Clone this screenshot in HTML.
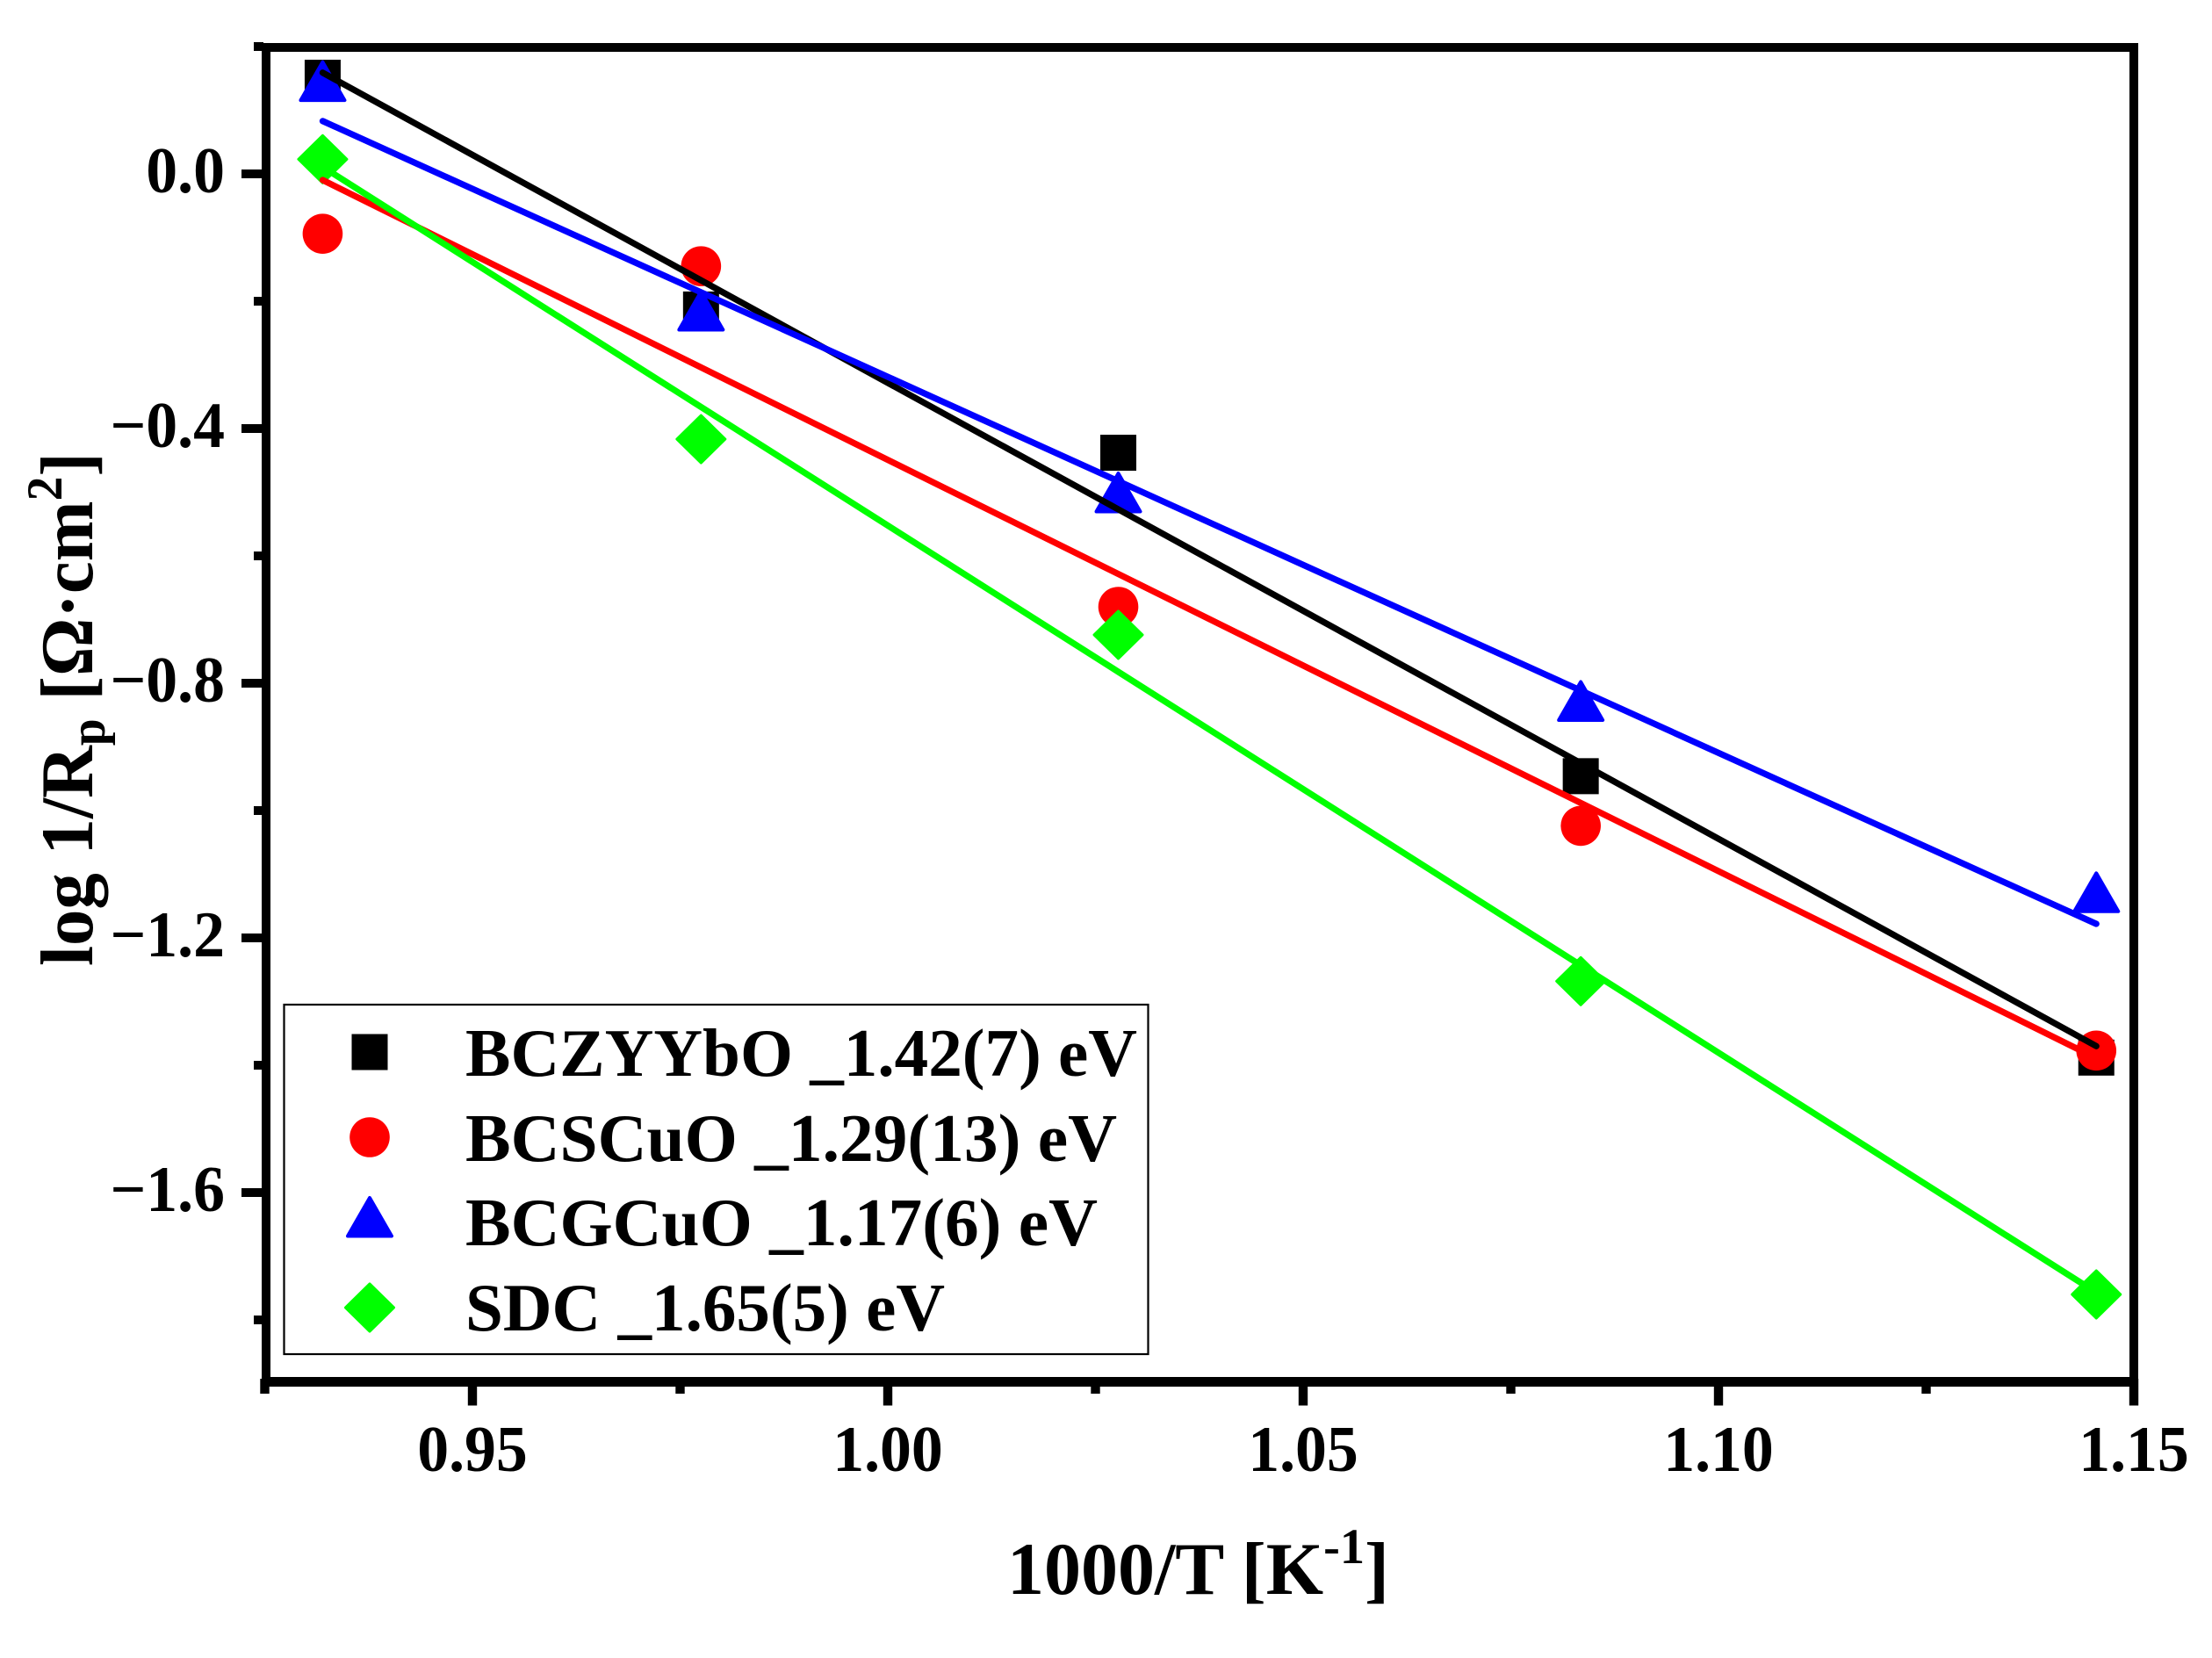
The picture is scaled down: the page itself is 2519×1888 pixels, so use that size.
<!DOCTYPE html>
<html lang="en">
<head>
<meta charset="utf-8">
<title>log 1/Rp vs 1000/T</title>
<style>
html,body{margin:0;padding:0;background:#fff;}
svg{display:block;}
text{font-family:"Liberation Serif",serif;font-weight:bold;fill:#000;}
</style>
</head>
<body>
<svg id="chart" xmlns="http://www.w3.org/2000/svg" width="2519" height="1888" viewBox="0 0 2519 1888">
  <rect width="2519" height="1888" fill="#fff"/>
  <g id="markers"></g>
  <g id="fits"></g>
  <g id="axes"></g>
  <g id="ticklabels"></g>

  <text x="1147" y="1815" font-size="85" textLength="435" lengthAdjust="spacingAndGlyphs">1000/T [K<tspan font-size="57" dy="-35">-1</tspan><tspan dy="35">]</tspan></text>
  <text transform="translate(105,1100) rotate(-90)" font-size="85" textLength="585" lengthAdjust="spacingAndGlyphs">log 1/R<tspan font-size="57" dy="14">p</tspan><tspan dy="-14"> [Ω·cm</tspan><tspan font-size="57" dy="-35">2</tspan><tspan dy="35">]</tspan></text>

  <g id="legend">
    <rect x="323.5" y="1144" width="984" height="398" fill="#fff" stroke="#000" stroke-width="2.2"/>
    <text x="530" y="1225" font-size="77" textLength="765" lengthAdjust="spacingAndGlyphs">BCZYYbO _1.42(7) eV</text>
    <text x="530" y="1322" font-size="77" textLength="742" lengthAdjust="spacingAndGlyphs">BCSCuO _1.29(13) eV</text>
    <text x="530" y="1418" font-size="77" textLength="720" lengthAdjust="spacingAndGlyphs">BCGCuO _1.17(6) eV</text>
    <text x="530" y="1515" font-size="77" textLength="546" lengthAdjust="spacingAndGlyphs">SDC _1.65(5) eV</text>
  </g>
</svg>
<script>
// ---- data ----
const temperatureX = [0.93197, 0.97752, 1.02775, 1.08342, 1.14548];
const bczyyboValues = [0.151, -0.213, -0.438, -0.946, -1.388];
const bcscuoValues = [-0.094, -0.145, -0.680, -1.024, -1.377];
const bcgcuoValues = [0.146, -0.2145, -0.500, -0.8276, -1.128];
const sdcValues = [0.023, -0.4166, -0.724, -1.268, -1.760];
const fitX = [0.93197, 1.14548];
const bczyyboFit = [0.159, -1.370];
const bcscuoFit = [-0.0097, -1.389];
const bcgcuoFit = [0.083, -1.178];
const sdcFit = [0.011, -1.757];
const xMajorTicks = [0.95, 1.00, 1.05, 1.10, 1.15];
const xMinorTicks = [0.925, 0.975, 1.025, 1.075, 1.125];
const yMajorTicks = [0.0, -0.4, -0.8, -1.2, -1.6];
const yMinorTicks = [0.2, -0.2, -0.6, -1.0, -1.4, -1.8];

// ---- axis functions ----
function xPos(v) { return 1011 + (v - 1) * 9460; }
function yPos(v) { return 198 - 725 * v; }

const NS = 'http://www.w3.org/2000/svg';
function mk(tag, attrs, parent) {
  const el = document.createElementNS(NS, tag);
  for (const k in attrs) el.setAttribute(k, attrs[k]);
  parent.appendChild(el);
  return el;
}
const markersG = document.getElementById('markers');
const fitsG = document.getElementById('fits');
const axesG = document.getElementById('axes');
const labelsG = document.getElementById('ticklabels');
const legendG = document.getElementById('legend');

function square(cx, cy, parent) {
  const el = mk('rect', {x: cx - 20.5, y: cy - 20.5, width: 41, height: 41, fill: '#000'}, parent);
  
  
}
function circle(cx, cy, parent) {
  const el = mk('circle', {cx: cx, cy: cy, r: 22.8, fill: '#f00'}, parent);
  
  
}
function triangle(cx, cy, parent) {
  const pts = [[cx, cy - 21.5], [cx + 25, cy + 22], [cx - 25, cy + 22]].map(p => p.join(',')).join(' ');
  const el = mk('polygon', {points: pts, fill: '#00f', stroke: '#00f', 'stroke-width': 4, 'stroke-linejoin': 'round'}, parent);
  
  
}
function diamond(cx, cy, parent) {
  const pts = [[cx, cy - 27], [cx + 27.5, cy], [cx, cy + 27], [cx - 27.5, cy]].map(p => p.join(',')).join(' ');
  const el = mk('polygon', {points: pts, fill: '#0f0', stroke: '#0f0', 'stroke-width': 3, 'stroke-linejoin': 'round'}, parent);
  
  
}

// data markers
temperatureX.forEach((x, i) => square(xPos(x), yPos(bczyyboValues[i]), markersG));
temperatureX.forEach((x, i) => circle(xPos(x), yPos(bcscuoValues[i]), markersG));
temperatureX.forEach((x, i) => triangle(xPos(x), yPos(bcgcuoValues[i]), markersG));
temperatureX.forEach((x, i) => diamond(xPos(x), yPos(sdcValues[i]), markersG));

// fit lines
function fitLine(vals, color, name) {
  const el = mk('line', {
    x1: xPos(fitX[0]), y1: yPos(vals[0]), x2: xPos(fitX[1]), y2: yPos(vals[1]),
    stroke: color, 'stroke-width': 7.2, 'stroke-linecap': 'round'
  }, fitsG);
  
  
}
fitLine(bczyyboFit, '#000', 'fit-line-bczyybo');
fitLine(bcscuoFit, '#f00', 'fit-line-bcscuo');
fitLine(bcgcuoFit, '#00f', 'fit-line-bcgcuo');
fitLine(sdcFit, '#0f0', 'fit-line-sdc');

// frame
function spine(x, y, w, h, name) {
  const el = mk('rect', {x: x, y: y, width: w, height: h, fill: '#000'}, axesG);
  
  
}
spine(298, 49, 2137, 10, 'top-spine');
spine(298, 49, 10, 1530, 'left-spine');
spine(298, 1568, 2137, 11, 'bottom-spine');
spine(2425, 49, 10, 1530, 'right-spine');

// ticks
function xTick(v, bottom) {
  const el = mk('rect', {x: xPos(v) - 5.2, y: 1570, width: 10.4, height: bottom - 1570, fill: '#000'}, axesG);
  
  
}
function yTick(v, left) {
  const el = mk('rect', {x: left, y: yPos(v) - 5, width: 300 - left, height: 10, fill: '#000'}, axesG);
  
  
}
xMajorTicks.forEach(v => xTick(v, 1600.5));
xMinorTicks.forEach(v => xTick(v, 1587));
yMajorTicks.forEach(v => yTick(v, 275));
yMinorTicks.forEach(v => yTick(v, 289));

// tick labels
const SX = 0.97;
xMajorTicks.forEach(v => {
  const t = mk('text', {transform: 'translate(' + xPos(v) + ',1675) scale(' + SX + ',1)', 'font-size': 74, 'text-anchor': 'middle'}, labelsG);
  t.textContent = v.toFixed(2);
  
  
});
yMajorTicks.forEach(v => {
  const t = mk('text', {transform: 'translate(256,' + (yPos(v) + 21) + ') scale(' + SX + ',1)', 'font-size': 74, 'text-anchor': 'end'}, labelsG);
  t.textContent = (v < 0 ? '\u2212' : '') + Math.abs(v).toFixed(1);
  
  
});

// legend symbols
square(421, 1198, legendG);
circle(421, 1295, legendG);
triangle(421, 1385.5, legendG);
diamond(421, 1489, legendG);
</script>
</body>
</html>
